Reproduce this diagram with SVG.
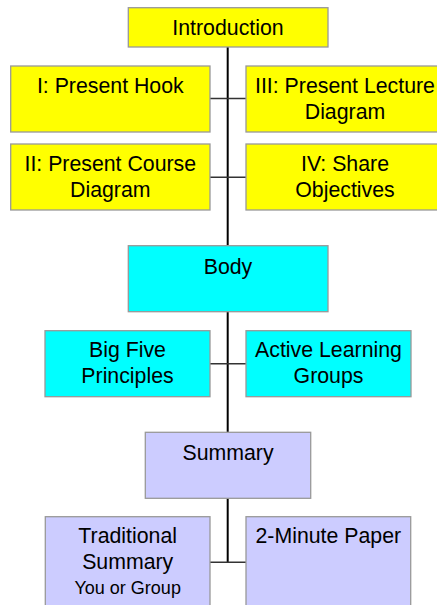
<svg xmlns="http://www.w3.org/2000/svg" width="437" height="605" viewBox="0 0 437 605">
  <style>
    .box { stroke: #999999; stroke-width: 1.3; }
    .intro { fill: #ffff00; }
    .body { fill: #00ffff; }
    .sum { fill: #ccccff; }
    .t { font-family: "Liberation Sans", Arial, sans-serif; font-size: 21.3px; fill: #000; text-anchor: middle; }
    .s { font-size: 18px; }
    .trunk { stroke: #000; stroke-width: 2; fill: none; }
    .branch { stroke: #333333; stroke-width: 1.4; fill: none; }
  </style>
  <rect width="437" height="605" fill="#ffffff"/>

  <!-- connectors -->
  <g id="connectors">
    <line class="trunk" x1="227.7" y1="47" x2="227.7" y2="246"/>
    <line class="trunk" x1="227.7" y1="311" x2="227.7" y2="432"/>
    <line class="trunk" x1="227.7" y1="498" x2="227.7" y2="562.3"/>
    <line class="branch" x1="210" y1="98.5" x2="246" y2="98.5"/>
    <line class="branch" x1="210" y1="177.3" x2="246" y2="177.3"/>
    <line class="branch" x1="210" y1="363.7" x2="246" y2="363.7"/>
    <line class="branch" x1="210" y1="562.3" x2="246" y2="562.3"/>
  </g>

  <!-- introduction section -->
  <g id="introduction">
    <rect class="box intro" x="128.3" y="7.7" width="199.7" height="39.3"/>
    <text class="t" x="228" y="34.5">Introduction</text>
  </g>
  <g id="present-hook">
    <rect class="box intro" x="10.7" y="66" width="199.3" height="66"/>
    <text class="t" x="110.3" y="92.5">I: Present Hook</text>
  </g>
  <g id="present-lecture-diagram">
    <rect class="box intro" x="246" y="66" width="198" height="66"/>
    <text class="t" x="345" y="92.5">III: Present Lecture</text>
    <text class="t" x="345" y="118.5">Diagram</text>
  </g>
  <g id="present-course-diagram">
    <rect class="box intro" x="10.7" y="144" width="199.3" height="66"/>
    <text class="t" x="110.3" y="171">II: Present Course</text>
    <text class="t" x="110.3" y="197">Diagram</text>
  </g>
  <g id="share-objectives">
    <rect class="box intro" x="246" y="144" width="198" height="66"/>
    <text class="t" x="345" y="171">IV: Share</text>
    <text class="t" x="345" y="197">Objectives</text>
  </g>

  <!-- body section -->
  <g id="body">
    <rect class="box body" x="128.3" y="245.7" width="199.7" height="66"/>
    <text class="t" x="228" y="273.5">Body</text>
  </g>
  <g id="big-five">
    <rect class="box body" x="45" y="330.7" width="165" height="66"/>
    <text class="t" x="127.5" y="356.7">Big Five</text>
    <text class="t" x="127.5" y="382.5">Principles</text>
  </g>
  <g id="active-learning">
    <rect class="box body" x="246" y="330.7" width="165" height="66"/>
    <text class="t" x="328.5" y="356.7">Active Learning</text>
    <text class="t" x="328.5" y="382.5">Groups</text>
  </g>

  <!-- summary section -->
  <g id="summary">
    <rect class="box sum" x="145.3" y="432.3" width="165.4" height="66"/>
    <text class="t" x="228" y="460">Summary</text>
  </g>
  <g id="traditional-summary">
    <rect class="box sum" x="45.3" y="516.7" width="164.7" height="100"/>
    <text class="t" x="127.7" y="543.3">Traditional</text>
    <text class="t" x="127.7" y="569.3">Summary</text>
    <text class="t s" x="127.7" y="594.3">You or Group</text>
  </g>
  <g id="two-minute-paper">
    <rect class="box sum" x="246" y="516.7" width="164.7" height="100"/>
    <text class="t" x="328.3" y="543.3">2-Minute Paper</text>
  </g>
</svg>
